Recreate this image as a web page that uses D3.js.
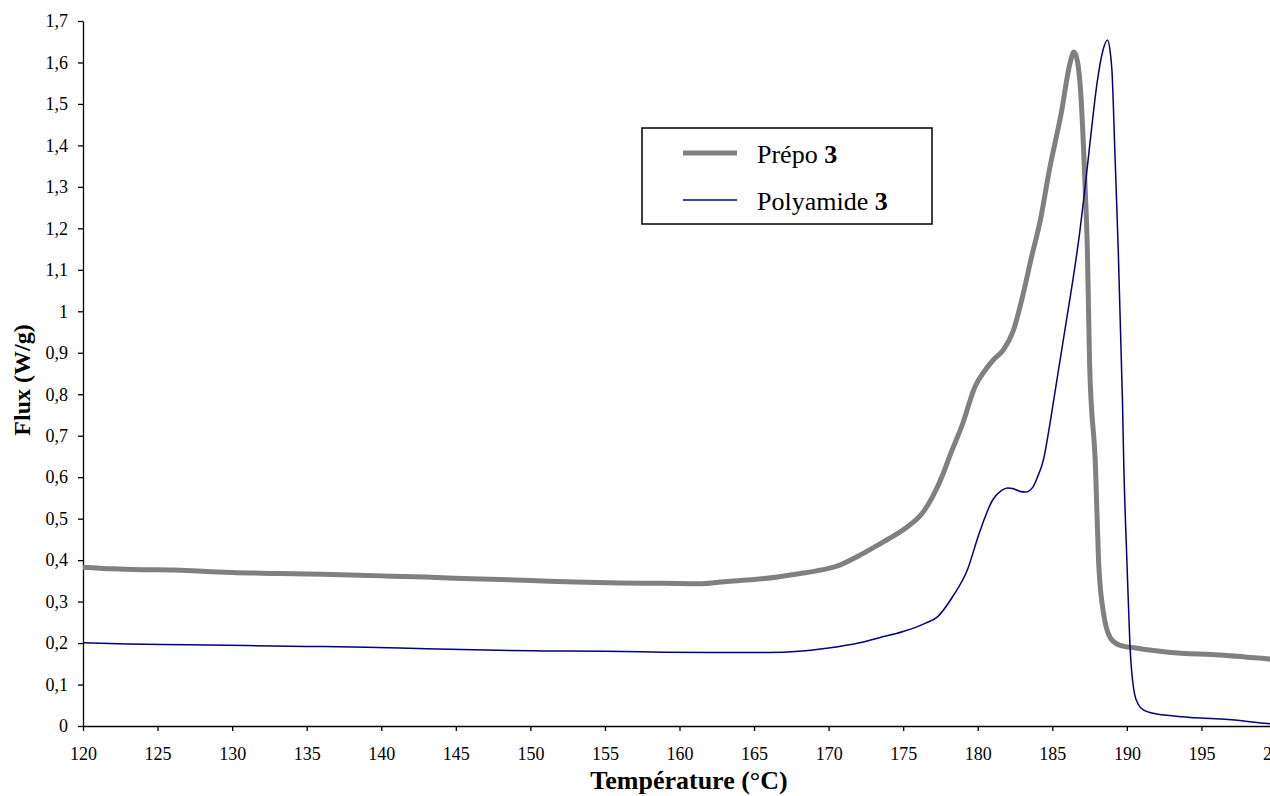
<!DOCTYPE html>
<html>
<head>
<meta charset="utf-8">
<script src="https://cdn.jsdelivr.net/npm/d3@7"></script>
<style>
  body { margin: 0; background: #fff; }
  svg { display: block; font-family: "Liberation Serif", "Times New Roman", serif; }
</style>
</head>
<body>
<div id="chart"></div>
<script>
// DSC curves
const prepoTemp = [120, 122, 124, 126, 128, 130, 133, 136, 140, 143, 146, 150, 153, 156, 159, 161.5, 163, 165, 166.7, 168, 170, 170.6, 172, 173, 174.1, 175.2, 176.3, 177, 177.7, 178.1, 179, 179.8, 180.5, 181.1, 181.7, 182.4, 183, 183.6, 184.2, 184.8, 185.6, 186.2, 186.45, 186.7, 186.9, 187.2, 187.35, 187.5, 187.9, 188.1, 188.4, 188.9, 189.5, 190.6, 192.8, 196.2, 200];
const prepoFlux = [0.383, 0.379, 0.377, 0.376, 0.373, 0.370, 0.368, 0.366, 0.362, 0.359, 0.355, 0.351, 0.347, 0.345, 0.344, 0.343, 0.348, 0.353, 0.360, 0.367, 0.380, 0.386, 0.410, 0.430, 0.453, 0.478, 0.514, 0.555, 0.610, 0.649, 0.730, 0.817, 0.858, 0.885, 0.906, 0.955, 1.035, 1.130, 1.220, 1.340, 1.478, 1.600, 1.625, 1.600, 1.530, 1.300, 1.150, 0.875, 0.620, 0.400, 0.280, 0.212, 0.195, 0.188, 0.178, 0.171, 0.160];

const polyTemp = [120, 123, 127, 131, 135, 139, 143, 147, 151, 155, 159, 163, 166, 168, 170, 172, 173.4, 175, 175.7, 176.5, 177.3, 178.3, 179.3, 180.1, 181, 181.6, 182, 182.4, 182.8, 183.2, 183.7, 184, 184.4, 184.8, 185.2, 185.6, 186, 186.4, 186.8, 187.2, 187.6, 188, 188.4, 188.7, 188.9, 189, 189.2, 189.4, 189.7, 189.8, 190, 190.2, 190.5, 190.8, 191.1, 192, 193, 195, 197, 199.4, 200];
const polyFlux = [0.201, 0.198, 0.196, 0.194, 0.192, 0.190, 0.186, 0.183, 0.181, 0.180, 0.178, 0.177, 0.177, 0.180, 0.188, 0.200, 0.213, 0.228, 0.236, 0.248, 0.263, 0.311, 0.376, 0.465, 0.545, 0.568, 0.574, 0.572, 0.566, 0.564, 0.576, 0.600, 0.641, 0.720, 0.810, 0.900, 0.990, 1.080, 1.180, 1.300, 1.430, 1.550, 1.630, 1.654, 1.620, 1.580, 1.380, 1.170, 0.790, 0.620, 0.400, 0.200, 0.080, 0.050, 0.039, 0.029, 0.025, 0.019, 0.015, 0.006, 0.004];

const xTicks = [120, 125, 130, 135, 140, 145, 150, 155, 160, 165, 170, 175, 180, 185, 190, 195, 200];
const yTicks = [0, 0.1, 0.2, 0.3, 0.4, 0.5, 0.6, 0.7, 0.8, 0.9, 1, 1.1, 1.2, 1.3, 1.4, 1.5, 1.6, 1.7];

const W = 1270, H = 796;
const plotLeft = 83, plotTop = 21, plotBottom = 726, plotRight = 1276;

const svg = d3.select("#chart").append("svg")
    .attr("width", W)
    .attr("height", H);

const x = d3.scaleLinear().domain([120, 200]).range([plotLeft, plotRight]);
const y = d3.scaleLinear().domain([0, 1.7]).range([plotBottom, plotTop]);

const frLocale = d3.formatLocale({decimal: ",", thousands: " ", grouping: [3], currency: ["", " €"]});
const fmt = frLocale.format(".1~f");

// axes
const xAxis = svg.append("g")
    .attr("transform", "translate(0," + plotBottom + ")")
    .call(d3.axisBottom(x).tickValues(xTicks).tickSize(5).tickSizeOuter(0).tickPadding(16));
const yAxis = svg.append("g")
    .attr("transform", "translate(" + plotLeft + ",0)")
    .call(d3.axisLeft(y).tickValues(yTicks).tickFormat(fmt).tickSize(5).tickSizeOuter(0).tickPadding(10));

[xAxis, yAxis].forEach(a => {
    a.selectAll("path, line").attr("stroke", "#000").attr("stroke-width", 1.3);
    a.selectAll("text")
        .attr("fill", "#000")
        .style("font-family", "Liberation Serif")
        .style("font-size", "18px");
});

// curves
const line = d3.line()
    .x(d => x(d[0]))
    .y(d => y(d[1]))
    .curve(d3.curveMonotoneX);

svg.append("path")
    .datum(d3.zip(prepoTemp, prepoFlux))
    .attr("d", line)
    .attr("fill", "none")
    .attr("stroke", "#808080")
    .attr("stroke-width", 5)
    .attr("stroke-linejoin", "round");

svg.append("path")
    .datum(d3.zip(polyTemp, polyFlux))
    .attr("d", line)
    .attr("fill", "none")
    .attr("stroke", "#000080")
    .attr("stroke-width", 1.5)
    .attr("stroke-linejoin", "round");

// axis titles
svg.append("text")
    .attr("x", 689)
    .attr("y", 789)
    .attr("text-anchor", "middle")
    .style("font-size", "26px")
    .style("font-weight", "bold")
    .text("Température (°C)");

svg.append("text")
    .attr("transform", "translate(30,380) rotate(-90)")
    .attr("text-anchor", "middle")
    .style("font-size", "24px")
    .style("font-weight", "bold")
    .text("Flux (W/g)");

// legend
const legend = svg.append("g");
legend.append("rect")
    .attr("x", 642).attr("y", 128)
    .attr("width", 290).attr("height", 96)
    .attr("fill", "#fff")
    .attr("stroke", "#000")
    .attr("stroke-width", 1.5);

const items = [
    {name: "Prépo ", color: "#808080", width: 5, yy: 153},
    {name: "Polyamide ", color: "#000080", width: 1.5, yy: 200}
];
items.forEach(it => {
    legend.append("line")
        .attr("x1", 683).attr("x2", 737)
        .attr("y1", it.yy).attr("y2", it.yy)
        .attr("stroke", it.color)
        .attr("stroke-width", it.width);
    const t = legend.append("text")
        .attr("x", 757)
        .attr("y", it.yy + 10)
        .style("font-size", "26px");
    t.append("tspan").text(it.name);
    t.append("tspan").style("font-weight", "bold").text("3");
});
</script>
</body>
</html>
